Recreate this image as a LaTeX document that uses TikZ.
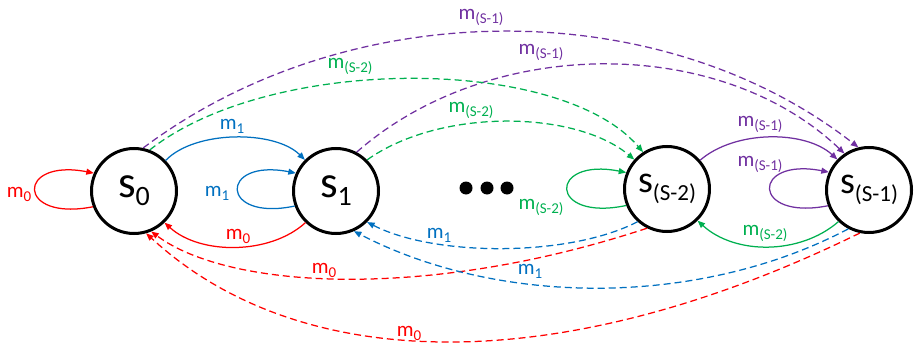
\documentclass[tikz,border=0pt]{standalone}
\usepackage{fontspec}
\setmainfont{Carlito}
\usetikzlibrary{arrows.meta}
\definecolor{cred}{HTML}{FF0000}
\definecolor{cblue}{HTML}{0070C0}
\definecolor{cgreen}{HTML}{00B050}
\definecolor{cpurple}{HTML}{7030A0}
\newcommand{\mlab}[1]{\fontsize{21}{21}\selectfont m\raisebox{-4pt}{\fontsize{15}{15}\selectfont #1}}
\newcommand{\slab}[3]{\fontsize{#1}{#1}\selectfont s\raisebox{-8pt}{\fontsize{#2}{#2}\selectfont #3}}
\begin{document}
\begin{tikzpicture}[x=1pt,y=-1pt,
  state/.style={circle,draw,line width=3pt,minimum size=85pt,inner sep=0pt},
  edge/.style={line width=1.25pt,-{Triangle[length=7.5pt,width=6pt]}},
  dsh/.style={dash pattern=on 7pt off 4pt},
  lab/.style={inner sep=0pt},
  dotn/.style={circle,fill=black,minimum size=13pt,inner sep=0pt}]
\useasboundingbox (0,0) rectangle (915,345);
\node[state] (s0) at (134,191) {\slab{45}{28}{0}};
\node[state] (s1) at (336,191) {\slab{45}{28}{1}};
\node[state] (s2) at (667,189) {\slab{38}{23}{(S-2)}};
\node[state] (s3) at (869,190) {\slab{38}{23}{(S-1)}};
\node[dotn] (d1) at (466,188) {};
\node[dotn] (d2) at (487,188) {};
\node[dotn] (d3) at (507,188) {};
% s0 loop
\draw[edge,cred] (s0.201) .. controls (16,222) and (16,158) .. (s0.156);
\node[lab,cred] (l00) at (19,194) {\mlab{0}};
% s0 -> s1
\draw[edge,cblue] (s0.44) .. controls (195,130) and (275,130) .. (s1.135);
\node[lab,cblue] (l01) at (232,126) {\mlab{1}};
% s1 loop
\draw[edge,cblue] (s1.200) .. controls (219,222) and (219,158) .. (s1.156);
\node[lab,cblue] (l11) at (217,193) {\mlab{1}};
% s1 -> s0
\draw[edge,cred] (s1.226) .. controls (270,255) and (200,255) .. (s0.-46);
\node[lab,cred] (l10) at (238,236) {\mlab{0}};
% s2 -> s0
\draw[edge,dsh,cred] (s2.243) .. controls (430,300) and (230,290) .. (s0.-67);
\node[lab,cred] (l20) at (324,270) {\mlab{0}};
% s3 -> s0
\draw[edge,dsh,cred] (s3.258) .. controls (560,380) and (300,375) .. (s0.-74);
\node[lab,cred] (l30) at (409,333) {\mlab{0}};
% s2 -> s1
\draw[edge,dsh,cblue] (s2.228) .. controls (570,257) and (435,257) .. (s1.-45);
\node[lab,cblue] (l21) at (439,235) {\mlab{1}};
% s3 -> s1
\draw[edge,dsh,cblue] (s3.242) .. controls (700,307) and (500,307) .. (s1.-66);
\node[lab,cblue] (l31) at (530,271) {\mlab{1}};
% s2 loop
\draw[edge,cgreen] (s2.202) .. controls (548,222) and (548,157) .. (s2.158);
\node[lab,cgreen] (l22) at (541,207) {\mlab{(S-2)}};
% s2 -> s3
\draw[edge,cpurple] (s2.41) .. controls (735,130) and (805,130) .. (s3.136);
\node[lab,cpurple] (l23) at (760,124) {\mlab{(S-1)}};
% s3 loop
\draw[edge,cpurple] (s3.201) .. controls (751,221) and (751,157) .. (s3.156);
\node[lab,cpurple] (l33) at (760,164) {\mlab{(S-1)}};
% s3 -> s2
\draw[edge,cgreen] (s3.226) .. controls (800,255) and (735,255) .. (s2.-46);
\node[lab,cgreen] (l32) at (765,233) {\mlab{(S-2)}};
% s0 -> s3
\draw[edge,dsh,cpurple] (s0.78) .. controls (350,-7) and (660,-7) .. (s3.104);
\node[lab,cpurple] (l03) at (481,17) {\mlab{(S-1)}};
% s1 -> s3
\draw[edge,dsh,cpurple] (s1.62) .. controls (490,35) and (720,35) .. (s3.124);
\node[lab,cpurple] (l13) at (541,52) {\mlab{(S-1)}};
% s0 -> s2
\draw[edge,dsh,cgreen] (s0.69) .. controls (270,55) and (560,55) .. (s2.123);
\node[lab,cgreen] (l02) at (350,66) {\mlab{(S-2)}};
% s1 -> s2
\draw[edge,dsh,cgreen] (s1.45) .. controls (440,108) and (575,110) .. (s2.138);
\node[lab,cgreen] (l12) at (471,110) {\mlab{(S-2)}};
\end{tikzpicture}
\end{document}
